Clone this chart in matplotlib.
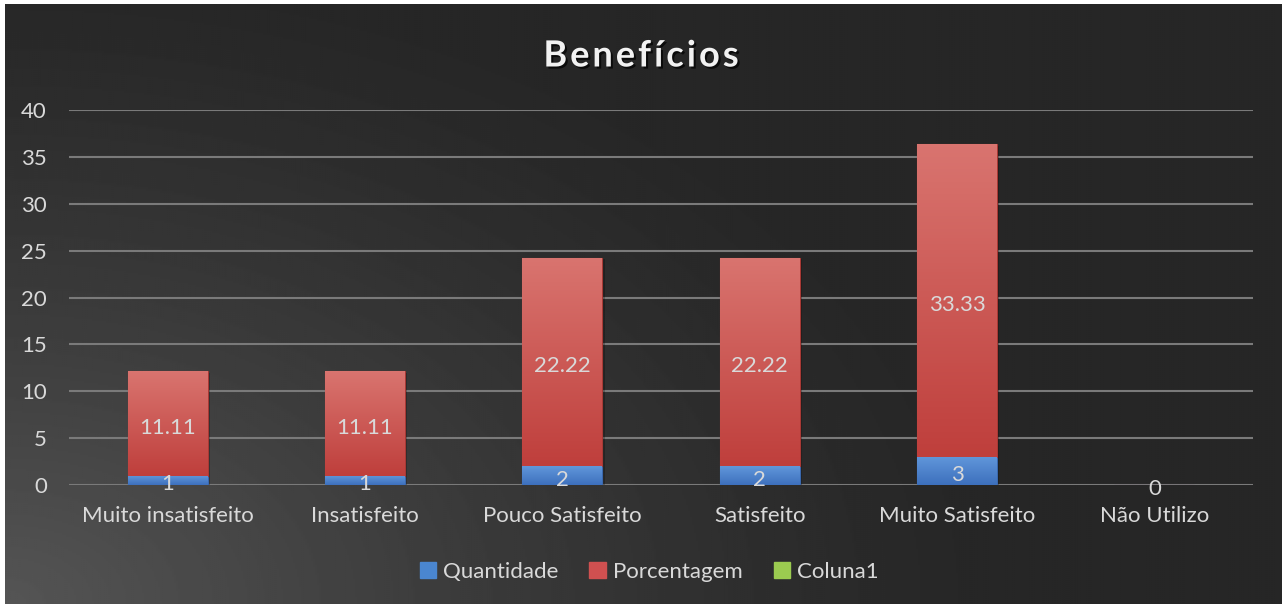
import numpy as np
import matplotlib
matplotlib.use("Agg")
import matplotlib.pyplot as plt
import matplotlib.patheffects as pe
from matplotlib.patches import Patch
from matplotlib.colors import LinearSegmentedColormap

categorias = ["Muito insatisfeito", "Insatisfeito", "Pouco Satisfeito",
              "Satisfeito", "Muito Satisfeito", "Não Utilizo"]
quantidade = [1, 1, 2, 2, 3, 0]
porcentagem = [11.11, 11.11, 22.22, 22.22, 33.33, 0]
coluna1 = [0, 0, 0, 0, 0, 0]
titulo = 'Benefícios'

plt.rcParams['font.family'] = ['Lato', 'DejaVu Sans']
texto = '#d9d9d9'

W, H = 1282, 604
fig = plt.figure(figsize=(W / 100, H / 100), dpi=100, facecolor='white')

# fundo escuro com gradiente (mais claro no canto inferior esquerdo)
bg = fig.add_axes([5 / W, 0, 1 - 5 / W, 600 / H])
bg.axis('off')
yy, xx = np.mgrid[0:600:300j, 0:1277:640j]
d = np.sqrt((xx / 1000) ** 2 + (yy / 650) ** 2)
shade = np.clip(1 - d, 0, 1) ** 1.3
img = (0x26 + shade * (0x55 - 0x26)) / 255
bg.imshow(img, cmap='gray', vmin=0, vmax=1, origin='lower',
          extent=[0, 1, 0, 1], aspect='auto')

ax = fig.add_axes([69 / W, 119 / H, 1184 / W, 375 / H])
ax.set_facecolor('none')
x = np.arange(len(categorias))
largura = 0.405

b1 = ax.bar(x, quantidade, largura, color='#4a7fc8', edgecolor='#3a68ad',
            linewidth=0.8, label='Quantidade', zorder=3)
b2 = ax.bar(x, porcentagem, largura, bottom=quantidade, color='#cc4a47',
            edgecolor='#a83935', linewidth=0.8, label='Porcentagem', zorder=3)
b3 = ax.bar(x, coluna1, largura, bottom=np.add(quantidade, porcentagem),
            color='#9bbb59', label='Coluna1', zorder=3)


def gradiente(barras, topo, base):
    cmap = LinearSegmentedColormap.from_list('g', [base, topo])
    grad = np.linspace(0, 1, 100).reshape(-1, 1)
    for b in barras:
        if b.get_height() <= 0:
            continue
        x0, y0 = b.get_x(), b.get_y()
        # sombra leve
        ax.bar(x0 + b.get_width() / 2 + 0.012, b.get_height(), b.get_width(),
               bottom=y0 - 0.12, color='black', alpha=0.25, zorder=2.5)
        im = ax.imshow(grad, cmap=cmap, origin='lower', aspect='auto',
                       extent=[x0, x0 + b.get_width(), y0, y0 + b.get_height()],
                       zorder=3.2)
        im.set_clip_path(b)


gradiente(b1, '#6197db', '#3d70bd')
gradiente(b2, '#d9746f', '#bf3f3c')

# rótulos de dados
for i in range(len(categorias)):
    ax.annotate(f'{quantidade[i]:g}', (x[i], quantidade[i] / 2),
                xytext=(0, -3), textcoords='offset points', ha='center',
                va='center', color=texto, fontsize=16, zorder=5)
    if porcentagem[i]:
        ax.annotate(f'{porcentagem[i]:.2f}',
                    (x[i], quantidade[i] + porcentagem[i] / 2),
                    xytext=(0, -3), textcoords='offset points', ha='center',
                    va='center', color=texto, fontsize=16, zorder=5)

ax.set_xlim(-0.5, len(categorias) - 0.5)
ax.set_ylim(0, 40)
ax.set_yticks(range(0, 41, 5))
ax.set_xticks(x)
ax.set_xticklabels(categorias)
ax.tick_params(axis='y', length=0, labelsize=16, colors=texto, pad=16)
ax.tick_params(axis='x', length=0, labelsize=16, colors=texto, pad=15)
ax.yaxis.grid(True, color='#7a7a7a', linewidth=1.5, zorder=1)
ax.set_axisbelow(True)
for s in ax.spines.values():
    s.set_visible(False)

# título com espaçamento entre letras
sombra = [pe.withSimplePatchShadow(offset=(1.5, -1.5), shadow_rgbFace='black',
                                   alpha=0.7)]
r = fig.canvas.get_renderer()
letras = [fig.text(0, 1 - 56 / H, c, ha='left', va='center', fontsize=26,
                   fontweight='bold', color='#f2f2f2', path_effects=sombra)
          for c in titulo]
larg = [t.get_window_extent(r).width for t in letras]
esp = 3.0
total = sum(larg) + esp * (len(larg) - 1)
pos = 641 - total / 2
for t, w in zip(letras, larg):
    t.set_x(pos / W)
    pos += w + esp

handles = [Patch(color='#4a86d0'), Patch(color='#d05050'), Patch(color='#9bcb50')]
fig.legend(handles, ['Quantidade', 'Porcentagem', 'Coluna1'], loc='center',
           bbox_to_anchor=(649 / W, 1 - 572 / H), ncol=3, frameon=False,
           fontsize=16, handlelength=0.75, handleheight=0.75,
           handletextpad=0.3, columnspacing=1.4, labelcolor=texto)

fig.savefig('out.png', dpi=100, facecolor=fig.get_facecolor())
